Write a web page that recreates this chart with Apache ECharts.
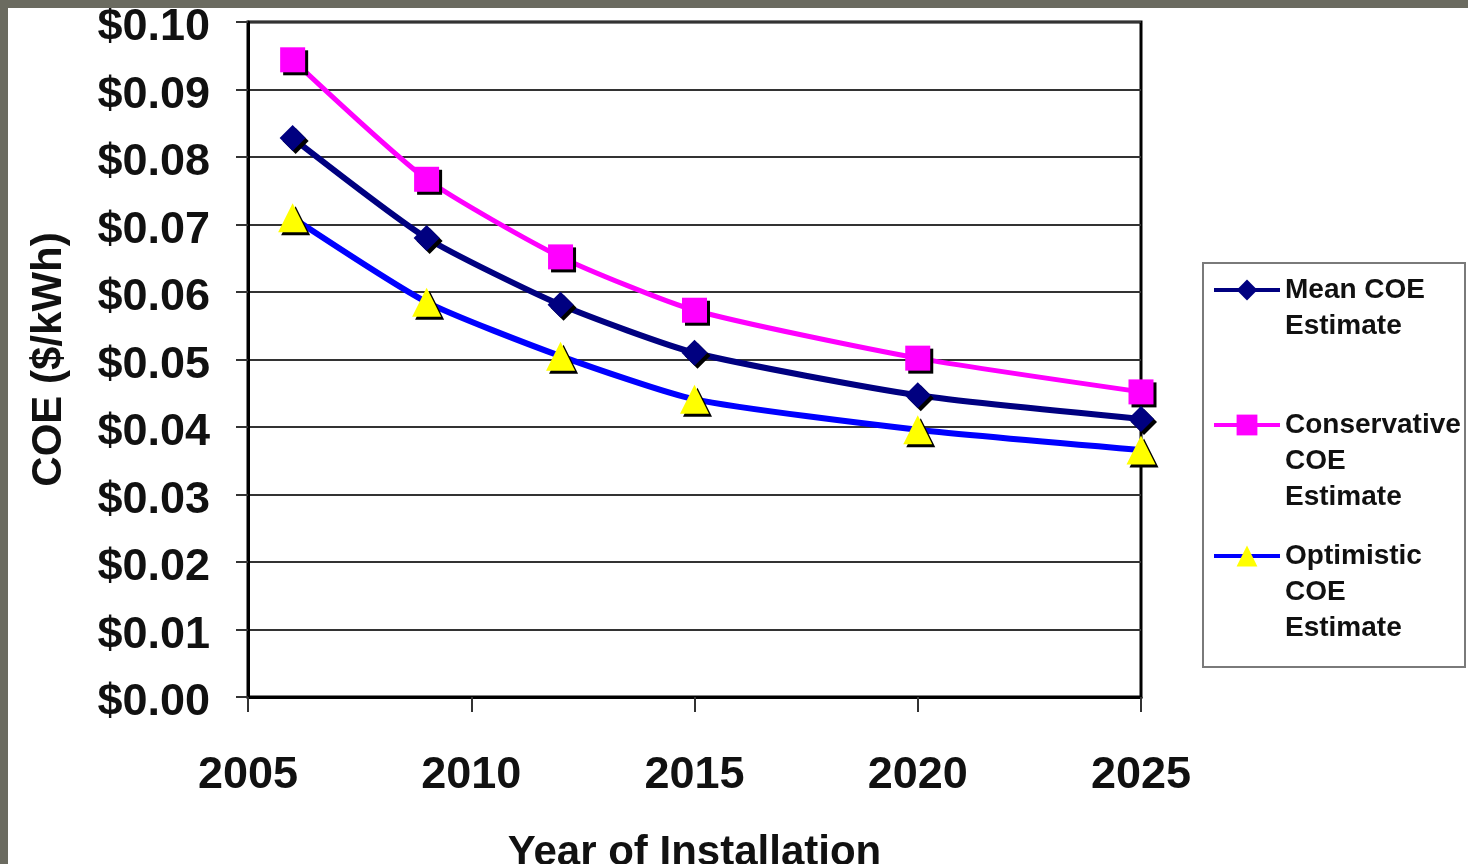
<!DOCTYPE html>
<html>
<head>
<meta charset="utf-8">
<script src="https://cdn.jsdelivr.net/npm/echarts@6/dist/echarts.min.js"></script>
<style>
  html, body { margin: 0; padding: 0; background: #6b6b60; width: 1468px; height: 864px; overflow: hidden; }
  #chart { position: absolute; left: 8px; top: 8px; width: 1460px; height: 856px; background: #ffffff; }
</style>
</head>
<body>
<div id="chart"></div>
<script>
// Installation years and cost-of-energy estimates ($/kWh)
const years = [2006, 2009, 2012, 2015, 2020, 2025];
const meanCOE = [0.0828, 0.0680, 0.0581, 0.0510, 0.0447, 0.0412];
const conservativeCOE = [0.0944, 0.0767, 0.0652, 0.0573, 0.0502, 0.0452];
const optimisticCOE = [0.0710, 0.0585, 0.0505, 0.0441, 0.0396, 0.0366];
const seriesNames = ['Mean COE\nEstimate', 'Conservative\nCOE\nEstimate', 'Optimistic\nCOE\nEstimate'];

const FONT = '"Liberation Sans", Arial, sans-serif';
const pairs = (vals) => years.map((y, i) => [y, vals[i]]);
const markerShadow = { shadowColor: '#000', shadowBlur: 0, shadowOffsetX: 3, shadowOffsetY: 3 };

// Legend entry: leading blank lines keep the icon level with the first text line
function legendEntry(name, top) {
  const lines = name.split('\n').length;
  return {
    orient: 'vertical',
    left: 1204,
    top: top,
    padding: 0,
    itemWidth: 66,
    itemHeight: 26,
    lineStyle: { width: 4 },
    itemStyle: { shadowColor: 'transparent', shadowOffsetX: 0, shadowOffsetY: 0 },
    textStyle: {
      fontFamily: FONT, fontWeight: 'bold', fontSize: 28, color: '#111', lineHeight: 36
    },
    formatter: (n) => '\n'.repeat(lines - 1) + n,
    data: [name],
    selectedMode: false
  };
}

const chart = echarts.init(document.getElementById('chart'), null, { renderer: 'canvas' });
chart.setOption({
  animation: false,
  backgroundColor: '#ffffff',
  grid: {
    left: 240, top: 14, width: 893, height: 675,
    outerBoundsMode: 'none', containLabel: false,
    show: true, borderColor: '#000', borderWidth: 3, backgroundColor: 'transparent'
  },
  legend: [
    legendEntry(seriesNames[0], 228),
    legendEntry(seriesNames[1], 327),
    legendEntry(seriesNames[2], 458)
  ],
  graphic: [{
    type: 'rect',
    shape: { x: 1195, y: 255, width: 262, height: 404 },
    style: { fill: 'transparent', stroke: '#7a7a7a', lineWidth: 2 },
    z: -1
  }],
  xAxis: {
    type: 'value', min: 2005, max: 2025, interval: 5,
    name: 'Year of Installation', nameLocation: 'middle', nameGap: 135,
    nameTextStyle: { fontFamily: FONT, fontWeight: 'bold', fontSize: 42, color: '#111' },
    axisLine: { show: true, lineStyle: { color: '#000', width: 3 } },
    axisTick: { show: true, length: 15, lineStyle: { color: '#333', width: 2 } },
    axisLabel: {
      fontFamily: FONT, fontWeight: 'bold', fontSize: 45, color: '#111', margin: 56,
      formatter: (v) => String(v)
    },
    splitLine: { show: false }
  },
  yAxis: {
    type: 'value', min: 0, max: 0.1, interval: 0.01,
    name: 'COE ($/kWh)', nameLocation: 'middle', nameGap: 178, nameRotate: 90,
    nameTextStyle: { fontFamily: FONT, fontWeight: 'bold', fontSize: 42, color: '#111' },
    axisLine: { show: true, lineStyle: { color: '#000', width: 3 } },
    axisTick: { show: true, length: 12, lineStyle: { color: '#333', width: 2 } },
    axisLabel: {
      color: '#111', margin: 38,
      formatter: (v) => '{v|$' + v.toFixed(2) + '}',
      rich: {
        v: { fontFamily: FONT, fontWeight: 'bold', fontSize: 45, color: '#111', padding: [12, 0, 0, 0] }
      }
    },
    splitLine: { show: true, lineStyle: { color: '#333', width: 2 } }
  },
  series: [
    {
      name: seriesNames[0], type: 'line', data: pairs(meanCOE), smooth: 0.2,
      symbol: 'diamond', symbolSize: 26,
      lineStyle: { color: '#000080', width: 6 },
      itemStyle: Object.assign({ color: '#000080' }, markerShadow),
      z: 3
    },
    {
      name: seriesNames[1], type: 'line', data: pairs(conservativeCOE), smooth: 0.2,
      symbol: 'rect', symbolSize: 25,
      lineStyle: { color: '#ff00ff', width: 5 },
      itemStyle: Object.assign({ color: '#ff00ff' }, markerShadow),
      z: 2
    },
    {
      name: seriesNames[2], type: 'line', data: pairs(optimisticCOE), smooth: 0.2,
      symbol: 'triangle', symbolSize: 29,
      lineStyle: { color: '#0000ff', width: 6 },
      itemStyle: Object.assign({ color: '#ffff00' }, markerShadow),
      z: 4
    }
  ]
});
</script>
</body>
</html>
